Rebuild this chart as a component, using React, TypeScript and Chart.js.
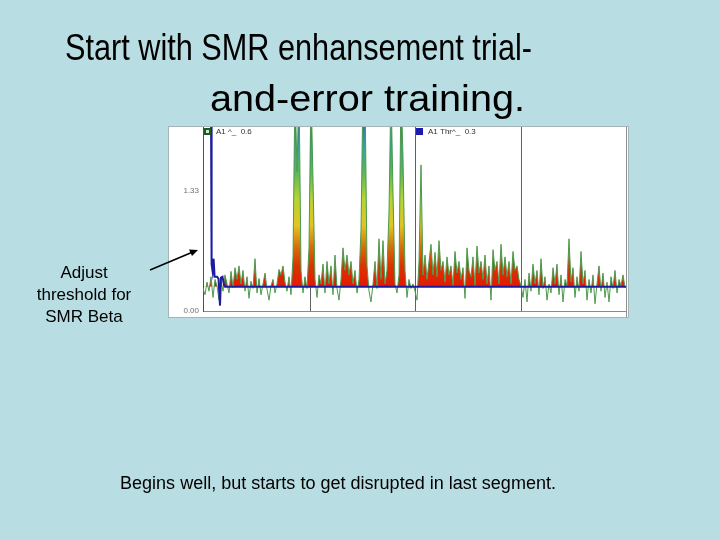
import React, { useEffect, useRef } from 'react';
import { Chart, registerables } from 'chart.js';
Chart.register(...registerables);

// Signal amplitude, one sample every 2 time units, in four recording segments
const seg1 = [
  0.25, 0.18, 0.32, 0.22, 0.38, 0.15, 0.35, 0.28, 0.12, 0.33,
  0.22, 0.40, 0.30, 0.20, 0.44, 0.26, 0.48, 0.35, 0.50, 0.30,
  0.45, 0.22, 0.38, 0.14, 0.33, 0.25, 0.58, 0.20, 0.36, 0.18,
  0.30, 0.42, 0.24, 0.12, 0.28, 0.35, 0.20, 0.30, 0.46, 0.40,
  0.50, 0.32, 0.22, 0.38, 0.18, 0.60, 2.50, 1.55, 2.50, 0.45,
  0.20, 0.38, 0.25,
];
const seg2 = [
  0.70, 2.50, 1.45, 0.35, 0.15, 0.40, 0.30, 0.52, 0.20, 0.55,
  0.30, 0.50, 0.18, 0.62, 0.25, 0.12, 0.35, 0.70, 0.45, 0.62,
  0.40, 0.55, 0.30, 0.45, 0.20, 0.35, 0.90, 2.50, 2.50, 0.50,
  0.22, 0.10, 0.30, 0.55, 0.25, 0.80, 0.35, 0.78, 0.30, 0.45,
  1.10, 2.50, 1.30, 0.30, 0.20, 0.40, 2.50, 1.70, 0.45, 0.15,
  0.35, 0.25, 0.30,
];
const seg3 = [
  0.22, 0.12, 0.55, 1.62, 0.40, 0.62, 0.35, 0.55, 0.74, 0.40,
  0.65, 0.38, 0.78, 0.45, 0.55, 0.32, 0.60, 0.40, 0.50, 0.28,
  0.66, 0.42, 0.55, 0.35, 0.48, 0.14, 0.70, 0.45, 0.38, 0.60,
  0.28, 0.72, 0.42, 0.55, 0.35, 0.62, 0.30, 0.50, 0.12, 0.68,
  0.45, 0.55, 0.30, 0.74, 0.40, 0.60, 0.38, 0.55, 0.30, 0.66,
  0.45, 0.50, 0.35,
];
const seg4 = [
  0.28, 0.15, 0.35, 0.10, 0.42, 0.22, 0.52, 0.30, 0.45, 0.18,
  0.58, 0.25, 0.38, 0.12, 0.30, 0.20, 0.48, 0.30, 0.52, 0.18,
  0.40, 0.10, 0.35, 0.28, 0.80, 0.32, 0.48, 0.15, 0.38, 0.22,
  0.66, 0.30, 0.45, 0.12, 0.35, 0.20, 0.40, 0.08, 0.30, 0.50,
  0.22, 0.42, 0.15, 0.32, 0.10, 0.38, 0.25, 0.45, 0.20, 0.35,
  0.28, 0.40, 0.26,
];
const sampleStep = 2;

// Threshold trace (adjusted at start, then held)
const thrX = [8, 8.6, 9.6, 10.6, 11.6, 14, 15.5, 17, 18, 19.5, 21, 22, 423];
const thrY = [2.3, 0.52, 0.44, 0.58, 0.38, 0.38, 0.36, 0.06, 0.37, 0.38, 0.29, 0.27, 0.27];
const thresholdLevel = 0.27;

const segmentBounds = [107, 212, 318];
const xMax = 423;
const yMax = 2.04;
const yTickValues = [0, 1.33];

const titleLines = ['Start with SMR enhansement trial-', 'and-error training.'];
const noteLines = ['Adjust', 'threshold for', 'SMR Beta'];
const caption = 'Begins well, but starts to get disrupted in last segment.';
const legendLabels = ['A1 ^_  0.6', 'A1 Thr^_  0.3'];

export default function App() {
  const ref = useRef<HTMLCanvasElement | null>(null);

  useEffect(() => {
    const canvas = ref.current;
    if (!canvas) return;
    const signal = [...seg1, ...seg2, ...seg3, ...seg4].map((v, i) => ({ x: i * sampleStep, y: v }));
    const thr = thrX.map((x, i) => ({ x, y: thrY[i] }));

    const fitText = (c: CanvasRenderingContext2D, text: string, left: number, right: number, y: number) => {
      const w = c.measureText(text).width;
      const s = (right - left) / w;
      c.save();
      c.translate(left, y);
      c.scale(s, 1);
      c.textAlign = 'left';
      c.fillText(text, 0, 0);
      c.restore();
    };

    const slidePlugin = {
      id: 'slide',
      beforeDraw(chart: any) {
        const c = chart.ctx;
        c.save();
        c.fillStyle = '#b8dee3';
        c.fillRect(0, 0, chart.width, chart.height);
        c.fillStyle = '#ffffff';
        c.fillRect(168, 126, 461, 192);
        c.strokeStyle = '#a6b4b8';
        c.lineWidth = 1;
        c.strokeRect(168.5, 126.5, 460, 191);
        c.restore();
      },
      beforeDatasetsDraw(chart: any) {
        const c = chart.ctx;
        const { top, bottom, right } = chart.chartArea;
        const xs = chart.scales.x;
        c.save();
        c.strokeStyle = '#606060';
        c.lineWidth = 1;
        segmentBounds.forEach((b) => {
          const px = Math.round(xs.getPixelForValue(b)) + 0.5;
          c.beginPath();
          c.moveTo(px, top);
          c.lineTo(px, bottom);
          c.stroke();
        });
        c.strokeStyle = '#909090';
        c.beginPath();
        c.moveTo(Math.round(right) + 0.5, top);
        c.lineTo(Math.round(right) + 0.5, bottom + 6);
        c.stroke();
        c.restore();
      },
      afterDraw(chart: any) {
        const c = chart.ctx;
        const xs = chart.scales.x;
        c.save();
        // title
        c.fillStyle = '#000';
        c.textBaseline = 'alphabetic';
        c.font = '37px "Liberation Sans", Arial, sans-serif';
        fitText(c, titleLines[0], 65, 532, 60);
        fitText(c, titleLines[1], 210, 525, 111);
        // note
        c.textAlign = 'center';
        c.font = '17px "Liberation Sans", Arial, sans-serif';
        noteLines.forEach((t, i) => c.fillText(t, 84, 278 + i * 22));
        // arrow
        c.strokeStyle = '#000';
        c.lineWidth = 1.5;
        c.beginPath();
        c.moveTo(150, 270);
        c.lineTo(194, 251.5);
        c.stroke();
        c.beginPath();
        c.moveTo(198, 250);
        c.lineTo(189, 249.5);
        c.lineTo(192, 256);
        c.closePath();
        c.fillStyle = '#000';
        c.fill();
        // caption
        c.font = '18px "Liberation Sans", Arial, sans-serif';
        fitText(c, caption, 120, 556, 489);
        // legend labels
        c.textAlign = 'left';
        c.font = '8px "Liberation Sans", Arial, sans-serif';
        c.fillStyle = '#333';
        const lx = [xs.getPixelForValue(0) + 1, xs.getPixelForValue(212) + 1];
        const boxCol = ['#1d5a22', '#1a1ab0'];
        lx.forEach((x, i) => {
          c.fillStyle = boxCol[i];
          c.fillRect(x, 128, 7, 7);
          if (i === 0) {
            c.fillStyle = '#cfe8cf';
            c.fillRect(x + 2, 130, 3, 3);
          }
          c.fillStyle = '#333';
          c.fillText(legendLabels[i], x + 12, 134);
        });
        c.restore();
      },
    };

    const gradientFill = (ctx: any) => {
      const chart = ctx.chart;
      const { chartArea, scales } = chart;
      if (!chartArea || !scales.y) return 'rgba(0,0,0,0)';
      const y = scales.y;
      const y0 = y.getPixelForValue(thresholdLevel);
      const y1 = y.getPixelForValue(yMax);
      const g = chart.ctx.createLinearGradient(0, y0, 0, y1);
      const span = yMax - thresholdLevel;
      const stop = (v: number, col: string) => g.addColorStop(Math.max(0, Math.min(1, (v - thresholdLevel) / span)), col);
      stop(0.27, '#e21a00');
      stop(0.5, '#dc3200');
      stop(0.7, '#d46c0a');
      stop(0.95, '#e2c422');
      stop(1.25, '#b4d434');
      stop(1.55, '#5cb45c');
      stop(1.8, '#34a4a0');
      stop(2.04, '#3478b4');
      return g;
    };

    const chart = new Chart(canvas, {
      type: 'line',
      data: {
        datasets: [
          {
            label: 'Threshold',
            data: thr,
            borderColor: '#1c1ca0',
            borderWidth: 2,
            pointRadius: 0,
            fill: false,
            tension: 0,
            order: 0,
          },
          {
            label: 'Signal',
            data: signal,
            borderColor: '#4c9a4c',
            borderWidth: 1,
            pointRadius: 0,
            tension: 0,
            backgroundColor: gradientFill,
            fill: { target: { value: thresholdLevel }, below: 'rgba(0,0,0,0)' },
            order: 1,
          },
        ],
      },
      options: {
        animation: false,
        responsive: false,
        maintainAspectRatio: false,
        devicePixelRatio: 1,
        layout: { padding: { left: 163, right: 94, top: 127, bottom: 229 } },
        plugins: { legend: { display: false }, title: { display: false }, tooltip: { enabled: false } },
        scales: {
          x: {
            type: 'linear',
            min: 0,
            max: xMax,
            ticks: { display: false },
            grid: { display: false, drawTicks: false },
            border: { display: true, color: '#8a8a8a' },
            afterFit: (s: any) => { s.height = 0; },
          },
          y: {
            min: 0,
            max: yMax,
            afterBuildTicks: (s: any) => { s.ticks = yTickValues.map((v) => ({ value: v })); },
            ticks: {
              callback: (v: any) => Number(v).toFixed(2),
              color: '#707070',
              padding: 4,
              font: { size: 8, family: '"Liberation Sans", Arial, sans-serif' },
            },
            grid: { display: false, drawTicks: false },
            border: { display: true, color: '#505050' },
            afterFit: (s: any) => { s.width = 40; },
          },
        },
      },
      plugins: [slidePlugin],
    } as any);
    return () => chart.destroy();
  }, []);

  return (
    <div style={{ position: 'fixed', left: 0, top: 0, width: 720, height: 540 }}>
      <canvas ref={ref} width={720} height={540} style={{ width: 720, height: 540, display: 'block' }} />
    </div>
  );
}
